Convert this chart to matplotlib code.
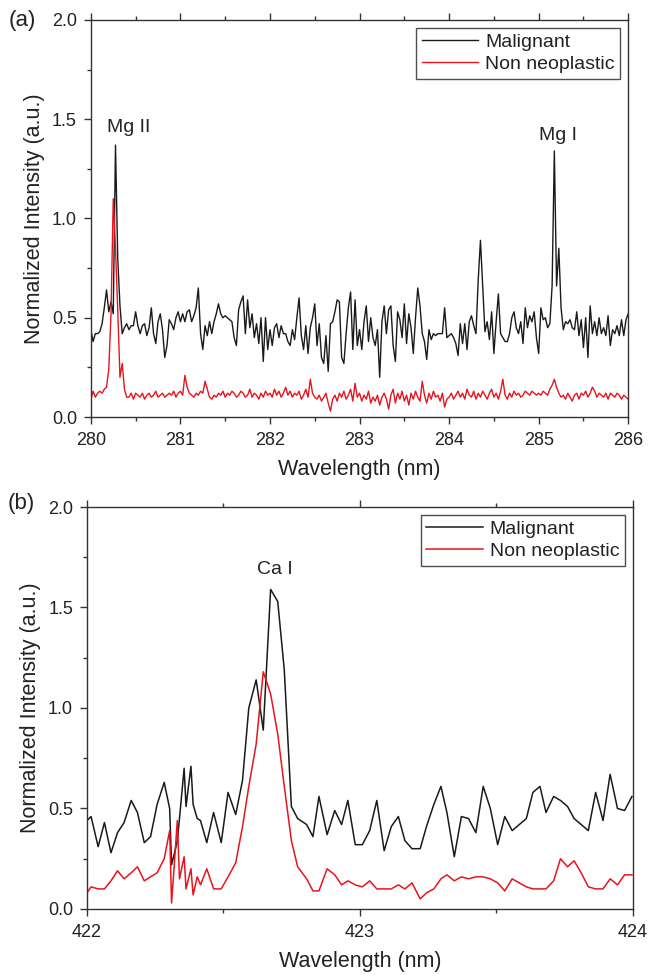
import numpy as np
import matplotlib
matplotlib.use("Agg")
import matplotlib.pyplot as plt
from matplotlib.ticker import MultipleLocator

plt.rcParams['font.family'] = ['Liberation Sans', 'DejaVu Sans']

# ---- panel (a): Mg lines, 280-286 nm, sampled every 0.025 nm ----
wl_mg = np.linspace(280.0, 286.0, 241)

malignant_mg = [
    0.44, 0.38, 0.42, 0.42, 0.43, 0.47, 0.55, 0.64, 0.53, 0.58, 0.52, 1.37, 0.80, 0.56, 0.42, 0.45, 0.47, 0.44, 0.46, 0.46,
    0.53, 0.46, 0.42, 0.46, 0.47, 0.41, 0.45, 0.55, 0.42, 0.37, 0.48, 0.52, 0.44, 0.30, 0.36, 0.49, 0.47, 0.44, 0.50, 0.53,
    0.48, 0.52, 0.48, 0.53, 0.54, 0.48, 0.51, 0.55, 0.65, 0.42, 0.34, 0.46, 0.41, 0.48, 0.42, 0.48, 0.52, 0.57, 0.52, 0.50,
    0.51, 0.50, 0.49, 0.48, 0.40, 0.36, 0.54, 0.58, 0.61, 0.42, 0.59, 0.45, 0.52, 0.40, 0.47, 0.37, 0.50, 0.28, 0.50, 0.34,
    0.44, 0.36, 0.45, 0.47, 0.40, 0.46, 0.42, 0.42, 0.38, 0.36, 0.44, 0.39, 0.50, 0.60, 0.41, 0.34, 0.46, 0.32, 0.45, 0.50,
    0.57, 0.36, 0.47, 0.30, 0.27, 0.41, 0.23, 0.47, 0.48, 0.53, 0.59, 0.58, 0.30, 0.27, 0.42, 0.55, 0.63, 0.34, 0.59, 0.36,
    0.44, 0.34, 0.48, 0.56, 0.38, 0.50, 0.40, 0.36, 0.44, 0.20, 0.48, 0.56, 0.42, 0.54, 0.56, 0.36, 0.28, 0.53, 0.49, 0.40,
    0.57, 0.37, 0.52, 0.45, 0.32, 0.50, 0.65, 0.56, 0.42, 0.38, 0.29, 0.44, 0.39, 0.42, 0.41, 0.42, 0.42, 0.42, 0.55, 0.40,
    0.41, 0.42, 0.40, 0.37, 0.31, 0.47, 0.37, 0.47, 0.34, 0.48, 0.51, 0.46, 0.42, 0.69, 0.89, 0.66, 0.43, 0.48, 0.39, 0.53,
    0.32, 0.48, 0.62, 0.42, 0.40, 0.38, 0.38, 0.42, 0.50, 0.53, 0.45, 0.42, 0.48, 0.37, 0.55, 0.45, 0.51, 0.48, 0.53, 0.40,
    0.32, 0.55, 0.49, 0.50, 0.45, 0.47, 0.66, 1.34, 0.66, 0.85, 0.55, 0.44, 0.48, 0.47, 0.49, 0.45, 0.44, 0.53, 0.41, 0.49,
    0.35, 0.50, 0.30, 0.56, 0.42, 0.48, 0.41, 0.50, 0.42, 0.45, 0.41, 0.51, 0.36, 0.44, 0.42, 0.46, 0.41, 0.49, 0.41, 0.49,
    0.52,
]

nonneo_mg = [
    0.09, 0.13, 0.10, 0.12, 0.13, 0.12, 0.14, 0.15, 0.24, 0.52, 1.10, 0.85, 0.54, 0.20, 0.27, 0.14, 0.10, 0.10, 0.12, 0.09,
    0.12, 0.11, 0.10, 0.12, 0.09, 0.11, 0.12, 0.10, 0.11, 0.13, 0.10, 0.11, 0.12, 0.10, 0.11, 0.12, 0.11, 0.13, 0.10, 0.12,
    0.13, 0.11, 0.21, 0.15, 0.12, 0.11, 0.10, 0.12, 0.11, 0.13, 0.12, 0.18, 0.14, 0.10, 0.09, 0.11, 0.10, 0.12, 0.11, 0.13,
    0.10, 0.12, 0.11, 0.13, 0.12, 0.10, 0.11, 0.13, 0.12, 0.10, 0.11, 0.14, 0.10, 0.12, 0.11, 0.09, 0.12, 0.10, 0.13, 0.11,
    0.12, 0.10, 0.14, 0.11, 0.13, 0.10, 0.12, 0.15, 0.11, 0.13, 0.10, 0.12, 0.11, 0.13, 0.09, 0.11, 0.14, 0.10, 0.19, 0.12,
    0.10, 0.09, 0.11, 0.08, 0.10, 0.12, 0.07, 0.03, 0.09, 0.11, 0.08, 0.12, 0.10, 0.13, 0.09, 0.11, 0.14, 0.08, 0.17, 0.10,
    0.12, 0.08, 0.11, 0.09, 0.13, 0.07, 0.10, 0.08, 0.11, 0.06, 0.10, 0.12, 0.09, 0.04, 0.11, 0.14, 0.07, 0.12, 0.09, 0.13,
    0.08, 0.11, 0.06, 0.12, 0.09, 0.13, 0.10, 0.08, 0.18, 0.11, 0.07, 0.12, 0.09, 0.13, 0.10, 0.11, 0.08, 0.12, 0.05, 0.09,
    0.10, 0.12, 0.09, 0.11, 0.13, 0.10, 0.12, 0.09, 0.14, 0.11, 0.10, 0.13, 0.09, 0.12, 0.10, 0.13, 0.11, 0.09, 0.12, 0.14,
    0.10, 0.12, 0.09, 0.13, 0.19, 0.11, 0.09, 0.12, 0.10, 0.13, 0.11, 0.12, 0.10, 0.11, 0.13, 0.12, 0.11, 0.13, 0.12, 0.11,
    0.12, 0.11, 0.13, 0.12, 0.11, 0.14, 0.16, 0.19, 0.15, 0.12, 0.10, 0.11, 0.09, 0.12, 0.10, 0.08, 0.11, 0.12, 0.09, 0.12,
    0.11, 0.13, 0.10, 0.12, 0.15, 0.13, 0.10, 0.12, 0.11, 0.10, 0.12, 0.09, 0.12, 0.11, 0.10, 0.12, 0.11, 0.09, 0.11, 0.10,
    0.09,
]

# ---- panel (b): Ca I line, 422-424 nm ----
wl_ca = [
    422.000, 422.015, 422.041, 422.064, 422.088, 422.112, 422.136, 422.162, 422.185, 422.210,
    422.233, 422.257, 422.283, 422.303, 422.310, 422.321, 422.331, 422.339, 422.356, 422.363,
    422.381, 422.389, 422.404, 422.416, 422.439, 422.464, 422.492, 422.517, 422.545, 422.570,
    422.593, 422.620, 422.646, 422.673, 422.699, 422.723, 422.749, 422.772, 422.805, 422.828,
    422.850, 422.880, 422.908, 422.933, 422.956, 422.983, 423.009, 423.036, 423.062, 423.089,
    423.115, 423.141, 423.165, 423.191, 423.221, 423.244, 423.271, 423.297, 423.319, 423.346,
    423.372, 423.398, 423.425, 423.452, 423.478, 423.505, 423.531, 423.558, 423.584, 423.610,
    423.634, 423.660, 423.682, 423.710, 423.735, 423.761, 423.785, 423.811, 423.837, 423.864,
    423.891, 423.917, 423.944, 423.970, 423.997,
]

malignant_ca = [
    0.44, 0.46, 0.31, 0.43, 0.28, 0.38, 0.43, 0.54, 0.48, 0.33,
    0.36, 0.52, 0.63, 0.50, 0.22, 0.28, 0.34, 0.45, 0.70, 0.51,
    0.71, 0.52, 0.45, 0.44, 0.33, 0.48, 0.33, 0.58, 0.47, 0.64,
    1.00, 1.14, 0.89, 1.59, 1.53, 1.19, 0.51, 0.45, 0.42, 0.36,
    0.56, 0.37, 0.49, 0.42, 0.54, 0.32, 0.32, 0.39, 0.54, 0.29,
    0.41, 0.46, 0.34, 0.30, 0.30, 0.41, 0.52, 0.61, 0.48, 0.26,
    0.46, 0.45, 0.38, 0.61, 0.50, 0.32, 0.46, 0.39, 0.42, 0.45,
    0.58, 0.61, 0.48, 0.56, 0.54, 0.51, 0.45, 0.42, 0.39, 0.58,
    0.44, 0.67, 0.50, 0.49, 0.56,
]

nonneo_ca = [
    0.08, 0.11, 0.10, 0.10, 0.14, 0.19, 0.15, 0.18, 0.21, 0.14,
    0.16, 0.18, 0.25, 0.39, 0.03, 0.24, 0.44, 0.15, 0.26, 0.10,
    0.20, 0.07, 0.16, 0.12, 0.20, 0.10, 0.10, 0.16, 0.23, 0.41,
    0.61, 0.82, 1.18, 1.07, 0.87, 0.61, 0.34, 0.21, 0.15, 0.09,
    0.09, 0.20, 0.17, 0.12, 0.14, 0.12, 0.11, 0.14, 0.10, 0.10,
    0.10, 0.12, 0.10, 0.13, 0.05, 0.08, 0.10, 0.15, 0.17, 0.14,
    0.16, 0.15, 0.16, 0.16, 0.15, 0.13, 0.09, 0.15, 0.13, 0.11,
    0.10, 0.10, 0.10, 0.14, 0.25, 0.21, 0.24, 0.18, 0.11, 0.10,
    0.10, 0.15, 0.12, 0.17, 0.17,
]

BLACK = '#1a1a1a'
RED = '#e8141c'
SPINE = '#333333'
TEXT = '#222222'


def style_axes(ax):
    for sp in ax.spines.values():
        sp.set_color(SPINE)
        sp.set_linewidth(1.0)
    ax.set_ylim(0, 2.0)
    ax.yaxis.set_major_locator(MultipleLocator(0.5))
    ax.yaxis.set_minor_locator(MultipleLocator(0.25))
    ax.xaxis.set_major_locator(MultipleLocator(1))
    ax.xaxis.set_minor_locator(MultipleLocator(0.5))
    ax.tick_params(axis='both', which='both', direction='out', color=SPINE,
                   labelsize=13, labelcolor=TEXT)
    ax.tick_params(axis='x', which='both', top=True, pad=6)
    ax.tick_params(axis='y', which='both', right=False, pad=5)
    ax.tick_params(which='major', length=5, width=1.0)
    ax.tick_params(which='minor', length=3, width=1.0)
    ax.yaxis.set_major_formatter(matplotlib.ticker.FormatStrFormatter('%.1f'))
    ax.set_xlabel('Wavelength (nm)', fontsize=15.5, color=TEXT, labelpad=7)
    ax.set_ylabel('Normalized Intensity (a.u.)', fontsize=15.5, color=TEXT, labelpad=5)
    leg = ax.legend(loc='upper right', fontsize=14, frameon=True, fancybox=False,
                    handlelength=2.9, borderpad=0.3, labelspacing=0.2,
                    handletextpad=0.35, borderaxespad=0.4)
    leg.get_frame().set_edgecolor(TEXT)
    leg.get_frame().set_linewidth(1.0)
    for t in leg.get_texts():
        t.set_color(TEXT)


fig = plt.figure(figsize=(6.49, 9.75), dpi=100)

ax1 = fig.add_axes([0.140, 0.5723, 0.828, 0.4072])
ax1.plot(wl_mg, malignant_mg, color=BLACK, lw=1.0, label='Malignant')
ax1.plot(wl_mg, nonneo_mg, color=RED, lw=1.0, label='Non neoplastic')
ax1.set_xlim(280, 286)
style_axes(ax1)
ax1.text(280.42, 1.46, 'Mg II', fontsize=14, ha='center', va='center', color=TEXT)
ax1.text(285.22, 1.42, 'Mg I', fontsize=14, ha='center', va='center', color=TEXT)

ax2 = fig.add_axes([0.134, 0.0677, 0.841, 0.4123])
ax2.plot(wl_ca, malignant_ca, color=BLACK, lw=1.1, label='Malignant')
ax2.plot(wl_ca, nonneo_ca, color=RED, lw=1.1, label='Non neoplastic')
ax2.set_xlim(422, 424)
style_axes(ax2)
ax2.text(422.69, 1.69, 'Ca I', fontsize=14, ha='center', va='center', color=TEXT)

fig.text(0.034, 0.979, '(a)', fontsize=16, ha='center', va='center', color=TEXT)
fig.text(0.032, 0.484, '(b)', fontsize=16, ha='center', va='center', color=TEXT)

fig.savefig('out.png', dpi=100)
